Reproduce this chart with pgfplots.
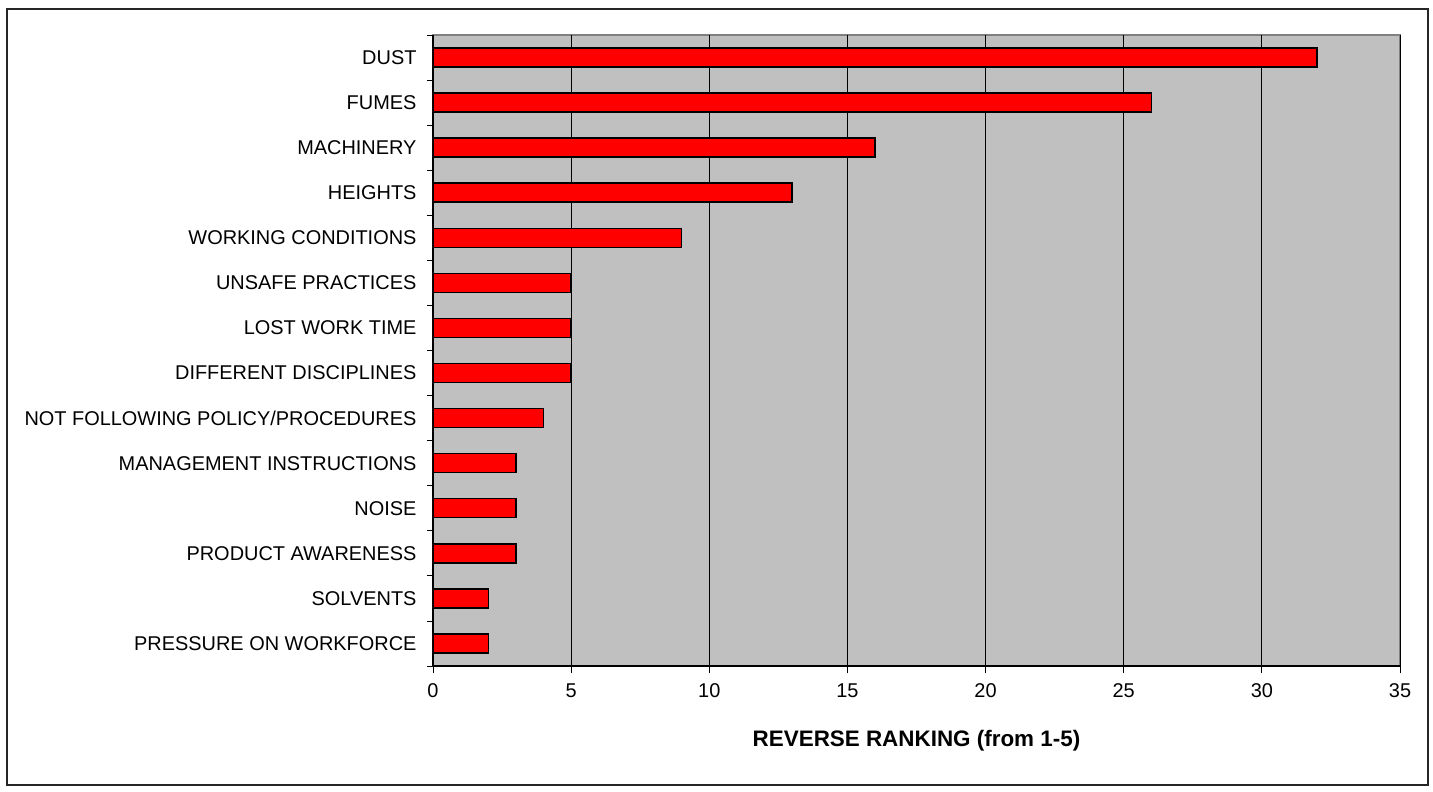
\documentclass[border=0pt]{standalone}
\usepackage{pgfplots}
\pgfplotsset{compat=1.18}
\usepackage{fontspec}
\setmainfont{Liberation Sans}
\definecolor{plotgray}{HTML}{C0C0C0}
\definecolor{edgegray}{HTML}{808080}
\begin{document}
\begin{tikzpicture}
% page = 1433 x 792 px, axis origin at pixel (433,666)
\path (-433bp,-126bp) rectangle (1000bp,666bp);
\draw[line width=1.5bp,black!85] (-426bp,-119bp) rectangle (995bp,657bp);
\begin{axis}[
	scale only axis,
	width=967bp, height=631bp,
	xmin=0, xmax=35,
	ymin=-0.5, ymax=13.5,
	xtick={0,5,...,35},
	ytick={0,...,13},
	yticklabels={PRESSURE ON WORKFORCE,SOLVENTS,PRODUCT AWARENESS,NOISE,MANAGEMENT INSTRUCTIONS,NOT FOLLOWING POLICY/PROCEDURES,DIFFERENT DISCIPLINES,LOST WORK TIME,UNSAFE PRACTICES,WORKING CONDITIONS,HEIGHTS,MACHINERY,FUMES,DUST},
	minor ytick={-0.5,0.5,...,13.5},
	axis x line*=bottom,
	axis y line*=left,
	axis line style={-, black, line width=1.2bp},
	axis background/.style={fill=plotgray, draw=edgegray, line width=1.2bp},
	xmajorgrids,
	major grid style={black, line width=0.8bp},
	tick align=outside,
	major x tick style={black, line width=0.8bp},
	major y tick style={draw=none},
	minor y tick style={black, line width=0.8bp},
	major tick length=7bp,
	minor tick length=6bp,
	tick label style={font=\fontsize{20}{23}\selectfont},
	/pgf/number format/assume math mode=true,
	yticklabel style={xshift=-6bp},
	xticklabel style={yshift=-7bp},
	xlabel={\bfseries REVERSE RANKING (from 1-5)},
	xlabel style={font=\fontsize{22.5}{26}\selectfont, yshift=-26bp},
	xbar,
	bar width=19bp,
]
\addplot[fill=red, draw=black, line width=1.5bp] coordinates {
	(2,0) (2,1) (3,2) (3,3) (3,4) (4,5) (5,6) (5,7) (5,8)
	(9,9) (13,10) (16,11) (26,12) (32,13)
};
\end{axis}
\end{tikzpicture}
\end{document}
